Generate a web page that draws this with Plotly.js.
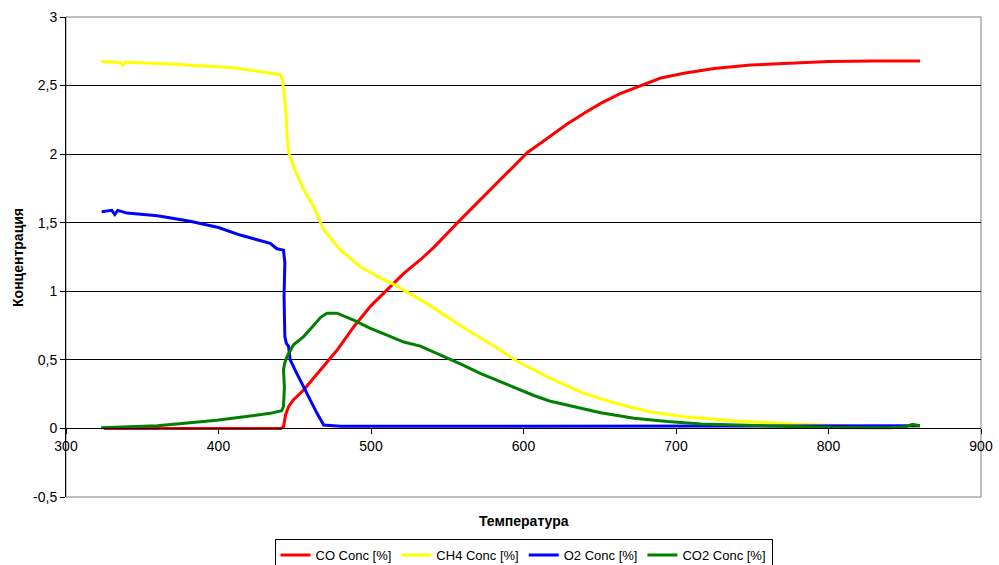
<!DOCTYPE html>
<html>
<head>
<meta charset="utf-8">
<script src="https://cdn.plot.ly/plotly-3.0.1.min.js"></script>
<style>
html,body{margin:0;padding:0;background:#fff;}
#chart{width:999px;height:565px;}
</style>
</head>
<body>
<div id="chart"></div>
<script>
// Temperature / concentration series
const coT   = [325, 360, 400, 430, 441, 442.6, 444, 446, 449.2, 455.8, 461, 466.8, 477.7, 488.6, 499.6, 510.5, 521.5, 532.4, 541.2, 557.6, 571, 584.9, 594, 602.4, 610, 617.7, 628.6, 640, 650.6, 663, 676.8, 690, 705.2, 725, 749, 775, 800, 830, 860];
const coY   = [0, 0, 0, 0, 0, 0.01, 0.1, 0.16, 0.21, 0.28, 0.35, 0.43, 0.57, 0.74, 0.89, 1.01, 1.13, 1.23, 1.32, 1.51, 1.66, 1.82, 1.92, 2.01, 2.07, 2.13, 2.22, 2.30, 2.37, 2.44, 2.50, 2.555, 2.59, 2.625, 2.65, 2.665, 2.675, 2.68, 2.68];

const ch4T  = [323.4, 335, 337, 339, 366, 409.8, 440.5, 442, 443, 444.5, 444.8, 446, 449.2, 455.8, 462.3, 468.9, 479.9, 493, 503.9, 514.9, 536.7, 558.6, 584.9, 595.8, 617.7, 639.6, 661.5, 683.4, 705.2, 738, 780, 820, 860];
const ch4Y  = [2.675, 2.67, 2.65, 2.67, 2.66, 2.63, 2.58, 2.54, 2.44, 2.27, 2.15, 2.01, 1.91, 1.74, 1.62, 1.45, 1.30, 1.18, 1.11, 1.05, 0.91, 0.75, 0.57, 0.49, 0.365, 0.256, 0.18, 0.12, 0.085, 0.056, 0.03, 0.015, 0.01];

const o2T   = [323.4, 330, 332, 334, 340, 360, 381.4, 400, 414.2, 425, 433.9, 438.3, 442.6, 443.5, 443, 443.5, 444.5, 445.9, 447, 451.4, 455.8, 460.2, 464.6, 469, 480, 550, 650, 750, 800, 860];
const o2Y   = [1.58, 1.59, 1.56, 1.59, 1.57, 1.55, 1.51, 1.465, 1.41, 1.38, 1.35, 1.31, 1.30, 1.21, 0.96, 0.67, 0.62, 0.6, 0.5, 0.40, 0.30, 0.21, 0.11, 0.025, 0.015, 0.015, 0.015, 0.018, 0.018, 0.02];

const co2T  = [323, 360, 398.9, 433.9, 441.5, 442.6, 443.2, 443, 442.6, 443.5, 444.8, 449.2, 455.8, 462.3, 467, 471.1, 477.7, 488.6, 499.6, 510.5, 521.5, 532.4, 545, 558.6, 572, 584.9, 596, 606.8, 617, 628.6, 640, 650.6, 672.5, 694.4, 716.3, 738, 770, 800, 840, 850, 855, 860];
const co2Y  = [0.005, 0.02, 0.06, 0.11, 0.13, 0.16, 0.30, 0.38, 0.43, 0.48, 0.52, 0.61, 0.67, 0.75, 0.81, 0.84, 0.84, 0.79, 0.73, 0.68, 0.63, 0.60, 0.54, 0.47, 0.40, 0.34, 0.285, 0.24, 0.20, 0.17, 0.14, 0.115, 0.074, 0.05, 0.032, 0.025, 0.012, 0.006, 0.005, 0.01, 0.03, 0.02];

const seriesNames  = ['CO Conc [%]', 'CH4 Conc [%]', 'O2 Conc [%]', 'CO2 Conc [%]'];
const seriesColors = ['#FF0000', '#FFFF00', '#0000FF', '#008000'];

const yTickVals = [-0.5, 0, 0.5, 1, 1.5, 2, 2.5, 3];
const yTickText = ['-0,5', '0', '0,5', '1', '1,5', '2', '2,5', '3'];
const xTickVals = [300, 400, 500, 600, 700, 800, 900];

const xs = [coT, ch4T, o2T, co2T];
const ys = [coY, ch4Y, o2Y, co2Y];

const traces = seriesNames.map((n, i) => ({
  type: 'scatter', mode: 'lines', name: n,
  x: xs[i], y: ys[i],
  line: {color: seriesColors[i], width: 3}
}));

const FONT = 'Liberation Sans, Arial, sans-serif';

const layout = {
  width: 999, height: 565,
  margin: {l: 66, r: 18, t: 17, b: 68, autoexpand: false},
  paper_bgcolor: '#fff', plot_bgcolor: '#fff',
  separators: ', ',
  font: {family: FONT, size: 14, color: '#000'},
  showlegend: true,
  legend: {
    orientation: 'h', x: 0.5, xanchor: 'center', y: -0.0875, yanchor: 'top',
    bordercolor: '#000', borderwidth: 1, font: {family: FONT, size: 13, color: '#000'},
    tracegroupgap: 0, itemwidth: 30
  },
  xaxis: {
    range: [300, 900], anchor: 'free', position: 1/7,
    tickvals: xTickVals, ticks: 'outside', ticklen: 5, tickcolor: '#000',
    showline: true, linecolor: '#000', linewidth: 1,
    showgrid: false, zeroline: false,
    tickfont: {family: FONT, size: 14, color: '#000'}
  },
  yaxis: {
    range: [-0.5, 3], domain: [0, 1],
    tickvals: yTickVals, ticktext: yTickText,
    ticks: 'outside', ticklen: 5, tickcolor: '#000',
    showline: true, linecolor: '#000', linewidth: 1,
    showgrid: true, gridcolor: '#000', gridwidth: 1,
    zeroline: false,
    tickfont: {family: FONT, size: 14, color: '#000'}
  },
  shapes: [
    {type: 'rect', xref: 'paper', yref: 'paper', x0: 0, x1: 1, y0: 0, y1: 1,
     line: {color: '#808080', width: 1}, layer: 'below'}
  ],
  annotations: [
    {text: '<b>Температура</b>', xref: 'paper', yref: 'paper', x: 0.5, y: -0.05,
     xanchor: 'center', yanchor: 'middle', showarrow: false,
     font: {family: FONT, size: 14, color: '#000'}},
    {text: '<b>Концентрация</b>', xref: 'paper', yref: 'paper', x: -0.0525, y: 0.5,
     xanchor: 'center', yanchor: 'middle', textangle: -90, showarrow: false,
     font: {family: FONT, size: 14, color: '#000'}}
  ]
};

Plotly.newPlot('chart', traces, layout, {displayModeBar: false, staticPlot: true});
</script>
</body>
</html>
